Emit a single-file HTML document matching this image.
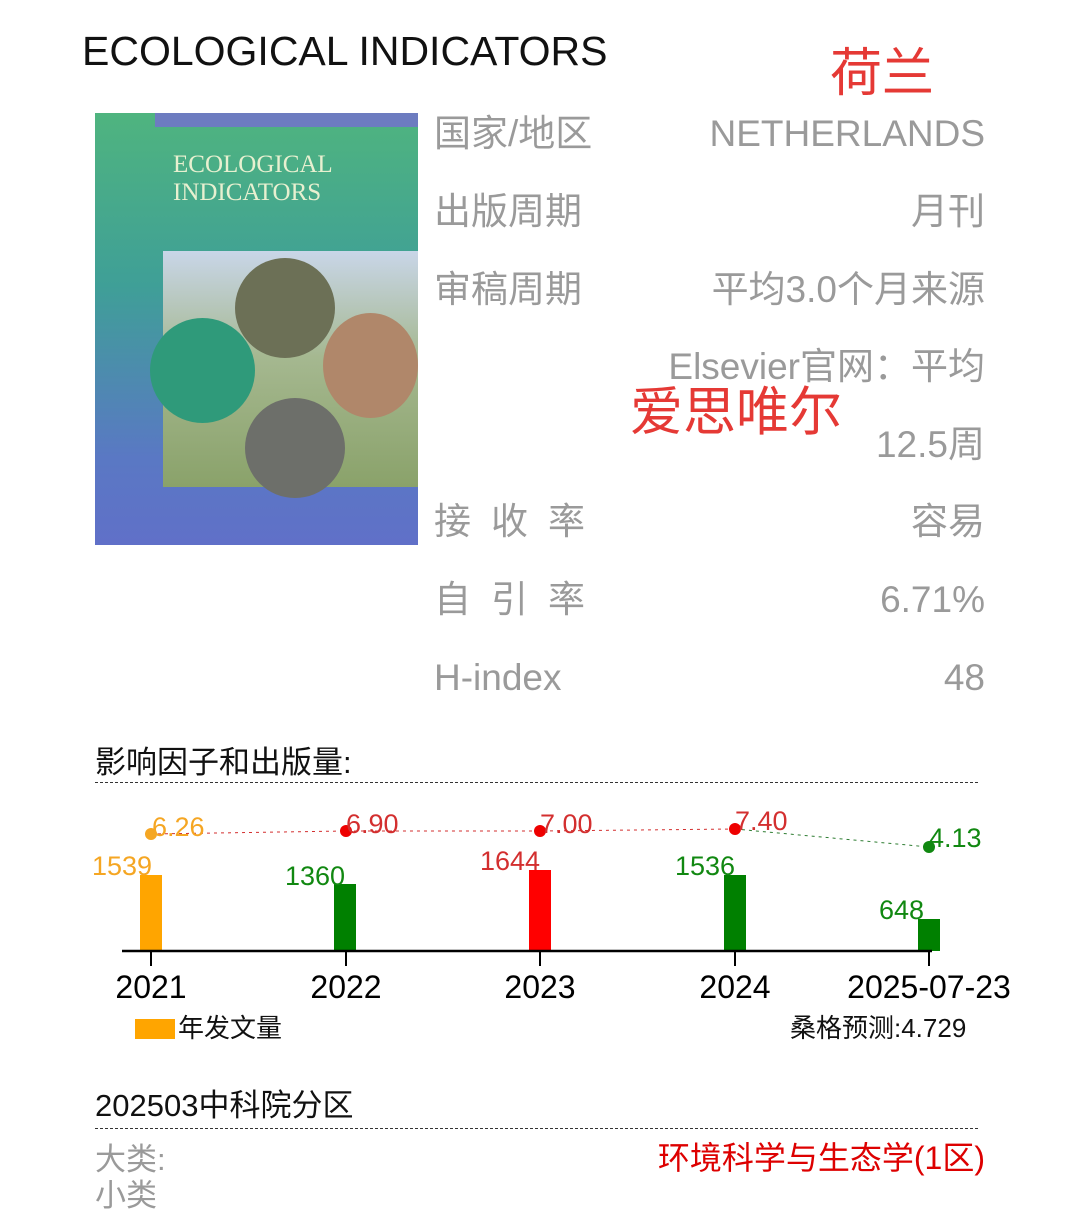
<!DOCTYPE html>
<html><head><meta charset="utf-8"><style>
body{margin:0;width:1080px;height:1186px;background:#fff;position:relative;overflow:hidden;font-family:"Liberation Sans","Noto Sans CJK SC",sans-serif}
.a{position:absolute;white-space:nowrap;line-height:1}
.g{color:#9a9a9a;font-size:37px}
.r{right:95px;text-align:right}
</style></head><body>
<div class="a" style="left:82px;top:31px;font-size:41px;color:#111">ECOLOGICAL INDICATORS</div>
<div class="a" style="left:830px;top:48px;font-size:52px;color:#e53935">荷兰</div>
<div class="a" style="left:95px;top:113px;width:323px;height:432px;background:linear-gradient(180deg,#4fb47f 0%,#3f9f97 40%,#5a78c4 80%,#6070c8 100%)">
 <div style="position:absolute;left:60px;top:0;right:0;height:14px;background:#6d7cc0"></div>
 <div style="position:absolute;left:68px;top:138px;right:0;height:236px;background:linear-gradient(180deg,#c9d6e8,#a5b890 45%,#8aa26a)"></div>
 <div style="position:absolute;left:140px;top:145px;width:100px;height:100px;border-radius:50%;background:#6c7056"></div>
 <div style="position:absolute;left:55px;top:205px;width:105px;height:105px;border-radius:50%;background:#2f9a7a"></div>
 <div style="position:absolute;left:228px;top:200px;width:95px;height:105px;border-radius:50%;background:#b0876a"></div>
 <div style="position:absolute;left:150px;top:285px;width:100px;height:100px;border-radius:50%;background:#6d6f6a"></div>
 <div style="position:absolute;left:78px;top:38px;color:#e8f0d0;font-family:'Liberation Serif',serif;font-size:25px;line-height:28px">ECOLOGICAL<br>INDICATORS</div>
</div>
<div class="a g" style="left:434px;top:115px">国家/地区</div><div class="a g r" style="top:115px">NETHERLANDS</div>
<div class="a g" style="left:434px;top:193px">出版周期</div><div class="a g r" style="top:193px">月刊</div>
<div class="a g" style="left:434px;top:271px">审稿周期</div><div class="a g r" style="top:271px">平均3.0个月来源</div>
<div class="a g r" style="top:348px">Elsevier官网：平均</div>
<div class="a" style="left:630px;top:386px;font-size:53px;color:#e53935">爱思唯尔</div>
<div class="a g r" style="top:426px">12.5周</div>
<div class="a g" style="left:434px;top:503px;letter-spacing:20px">接收率</div><div class="a g r" style="top:503px">容易</div>
<div class="a g" style="left:434px;top:581px;letter-spacing:20px">自引率</div><div class="a g r" style="top:581px">6.71%</div>
<div class="a g" style="left:434px;top:659px">H-index</div><div class="a g r" style="top:659px">48</div>
<div class="a" style="left:95px;top:747px;font-size:31px;color:#111">影响因子和出版量:</div>
<div class="a" style="left:95px;top:782px;width:883px;border-top:1px dashed #333"></div>
<svg class="a" style="left:0;top:790px" width="1080" height="260" font-family="Liberation Sans" font-size="27">
<g transform="translate(0,-790)">
<polyline points="151,834 346,831 540,831 735,829" fill="none" stroke="#d32f2f" stroke-dasharray="3,4"/>
<line x1="735" y1="829" x2="929" y2="847" stroke="#2e7d32" stroke-dasharray="3,4"/>
<rect x="140" y="875" width="22" height="76" fill="#ffa500"/>
<rect x="334" y="884" width="22" height="67" fill="#008000"/>
<rect x="529" y="870" width="22" height="81" fill="#ff0000"/>
<rect x="724" y="875" width="22" height="76" fill="#008000"/>
<rect x="918" y="919" width="22" height="32" fill="#008000"/>
<line x1="122" y1="951" x2="932" y2="951" stroke="#000" stroke-width="2.5"/>
<g stroke="#000" stroke-width="2"><line x1="151" y1="951" x2="151" y2="966"/><line x1="346" y1="951" x2="346" y2="966"/><line x1="540" y1="951" x2="540" y2="966"/><line x1="735" y1="951" x2="735" y2="966"/><line x1="929" y1="951" x2="929" y2="966"/></g>
<circle cx="151" cy="834" r="6" fill="#f5a623"/><circle cx="346" cy="831" r="6" fill="#e00"/><circle cx="540" cy="831" r="6" fill="#e00"/><circle cx="735" cy="829" r="6" fill="#e00"/><circle cx="929" cy="847" r="6" fill="#118811"/>
<text x="152" y="836" fill="#f5a623">6.26</text><text x="346" y="833" fill="#d32f2f">6.90</text><text x="540" y="833" fill="#d32f2f">7.00</text><text x="735" y="830" fill="#d32f2f">7.40</text><text x="929" y="847" fill="#118811">4.13</text>
<text x="92" y="875" fill="#f5a623">1539</text><text x="285" y="885" fill="#118811">1360</text><text x="480" y="870" fill="#d32f2f">1644</text><text x="675" y="875" fill="#118811">1536</text><text x="879" y="919" fill="#118811">648</text>
<g font-size="32" fill="#000" text-anchor="middle"><text x="151" y="998">2021</text><text x="346" y="998">2022</text><text x="540" y="998">2023</text><text x="735" y="998">2024</text><text x="929" y="998">2025-07-23</text></g>
</g></svg>
<div class="a" style="left:135px;top:1019px;width:40px;height:20px;background:#ffa500"></div>
<div class="a" style="left:178px;top:1015px;font-size:26px;color:#111">年发文量</div>
<div class="a" style="left:790px;top:1015px;font-size:26px;color:#111">桑格预测:4.729</div>
<div class="a" style="left:95px;top:1090px;font-size:31px;color:#111">202503中科院分区</div>
<div class="a" style="left:95px;top:1128px;width:883px;border-top:1px dashed #333"></div>
<div class="a" style="left:95px;top:1144px;font-size:31px;color:#9a9a9a">大类:</div>
<div class="a" style="right:95px;top:1142px;font-size:32px;color:#d00">环境科学与生态学(1区)</div>
<div class="a" style="left:95px;top:1180px;font-size:31px;color:#9a9a9a">小类</div>
</body></html>
